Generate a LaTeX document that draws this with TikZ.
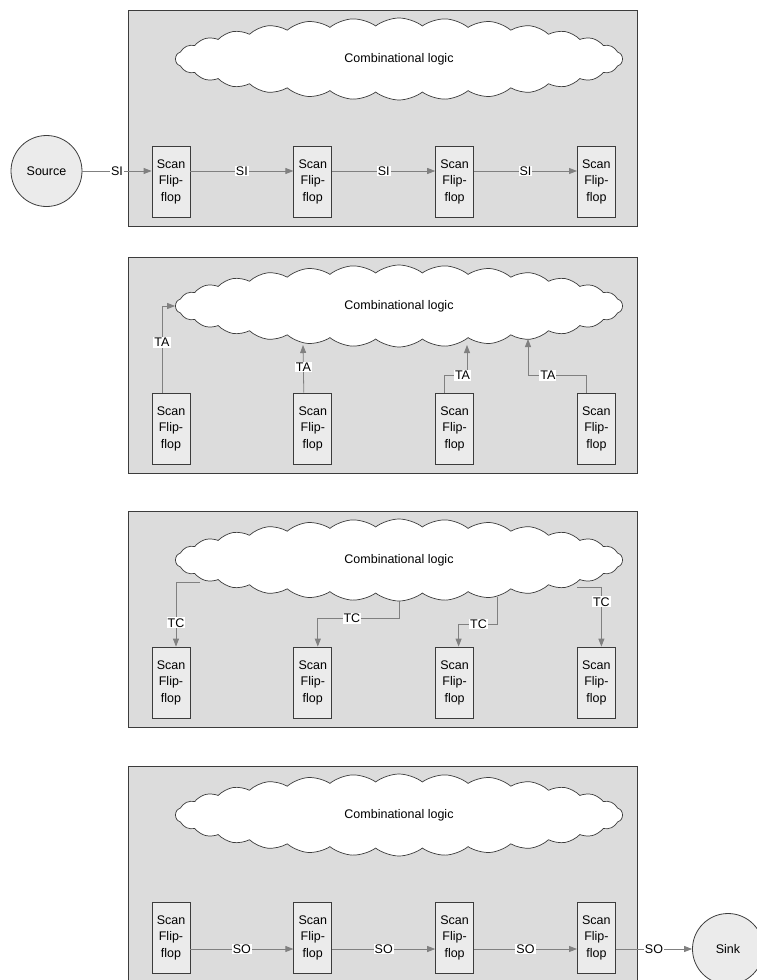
\documentclass[tikz,border=0pt]{standalone}
\usepackage{fontspec}
\setmainfont{Liberation Sans}
\usetikzlibrary{shapes.symbols, arrows.meta, positioning}
\definecolor{panelgray}{HTML}{DCDCDC}
\definecolor{boxgray}{HTML}{EBEBEB}
\definecolor{linegray}{HTML}{808080}
\definecolor{edgegray}{HTML}{3C3C3C}

\begin{document}
\begin{tikzpicture}[x=1pt, y=-1pt,
					every node/.style={font=\fontsize{12.5}{16.5}\selectfont},
					panel/.style={rectangle,
					draw=edgegray,
					line width=0.8pt,
					fill=panelgray,
					anchor=north west,
					minimum width=509pt,
					minimum height=216pt},
					cloudy/.style={cloud,
					cloud puffs=30,
					cloud puff arc=75,
					aspect=5.45,
					draw=edgegray,
					line width=0.7pt,
					fill=white,
					minimum width=447pt,
					minimum height=82pt},
					flipflop/.style={rectangle,
					draw=edgegray,
					line width=0.8pt,
					fill=boxgray,
					align=center,
					inner sep=0pt,
					minimum width=38pt,
					minimum height=71pt},
					term/.style={circle,
					draw=edgegray,
					line width=0.8pt,
					fill=boxgray,
					minimum size=71pt},
					sig/.style={draw=linegray,
					line width=0.8pt,
					-{Triangle[length=8pt, width=6pt]}},
					lbl/.style={fill=white,
					inner sep=1pt}
					]

\useasboundingbox (0,0) rectangle (756,980);

% panel 1: scan in
\node[panel]     (pan1) at (128,10) {};
\node[cloudy]    (cloud1) at (399,59) {Combinational logic};
\node[flipflop]  (ff11) at (171,181.5) {Scan\\Flip-\\flop};
\node[flipflop]  (ff12) [right=103pt of ff11] {Scan\\Flip-\\flop};
\node[flipflop]  (ff13) [right=103pt of ff12] {Scan\\Flip-\\flop};
\node[flipflop]  (ff14) [right=103pt of ff13] {Scan\\Flip-\\flop};
\node[term]      (source) at (46.5,171) {Source};

% panel 2: test apply
\node[panel]     (pan2) at (128,257) {};
\node[cloudy]    (cloud2) at (399,306) {Combinational logic};
\node[flipflop]  (ff21) at (171,428.5) {Scan\\Flip-\\flop};
\node[flipflop]  (ff22) [right=103pt of ff21] {Scan\\Flip-\\flop};
\node[flipflop]  (ff23) [right=103pt of ff22] {Scan\\Flip-\\flop};
\node[flipflop]  (ff24) [right=103pt of ff23] {Scan\\Flip-\\flop};

% panel 3: test capture
\node[panel]     (pan3) at (128,511) {};
\node[cloudy]    (cloud3) at (399,560) {Combinational logic};
\node[flipflop]  (ff31) at (171,682.5) {Scan\\Flip-\\flop};
\node[flipflop]  (ff32) [right=103pt of ff31] {Scan\\Flip-\\flop};
\node[flipflop]  (ff33) [right=103pt of ff32] {Scan\\Flip-\\flop};
\node[flipflop]  (ff34) [right=103pt of ff33] {Scan\\Flip-\\flop};

% panel 4: scan out
\node[panel]     (pan4) at (128,766) {};
\node[cloudy]    (cloud4) at (399,815) {Combinational logic};
\node[flipflop]  (ff41) at (171,937.5) {Scan\\Flip-\\flop};
\node[flipflop]  (ff42) [right=103pt of ff41] {Scan\\Flip-\\flop};
\node[flipflop]  (ff43) [right=103pt of ff42] {Scan\\Flip-\\flop};
\node[flipflop]  (ff44) [right=103pt of ff43] {Scan\\Flip-\\flop};
\node[term]      (sink) at (728,949) {Sink};

% where the arrows meet the clouds
\coordinate (ta2) at (303,345);
\coordinate (ta3) at (467,345);
\coordinate (ta4) at (528,339);
\coordinate (tc1) at (200,582);
\coordinate (tc3) at (497,597);
\coordinate (tc4) at (577,587);

% SI arrows
\draw[sig] (source.east) -- node[lbl]{SI} (source.east -| ff11.west);
\draw[sig] ([yshift=10.5pt]ff11.east) -- node[lbl]{SI} ([yshift=10.5pt]ff12.west);
\draw[sig] ([yshift=10.5pt]ff12.east) -- node[lbl]{SI} ([yshift=10.5pt]ff13.west);
\draw[sig] ([yshift=10.5pt]ff13.east) -- node[lbl]{SI} ([yshift=10.5pt]ff14.west);

% TA arrows
\draw[sig] ([xshift=-9pt]ff21.north) |- node[lbl, pos=0.29]{TA} (cloud2.west);
\draw[sig] ([xshift=-9pt]ff22.north) -- node[lbl, pos=0.54]{TA} (ta2);
\draw[sig] ([xshift=-10pt]ff23.north) -- ++(0,-17) -| node[lbl, pos=0.4]{TA} (ta3);
\draw[sig] ([xshift=-10pt]ff24.north) -- ++(0,-17) -| node[lbl, pos=0.33]{TA} (ta4);

% TC arrows
\draw[sig] (tc1) -| node[lbl, pos=0.815]{TC} ([xshift=5pt]ff31.north);
\draw[sig] (cloud3.south) -- ++(0,17) -| node[lbl, pos=0.29]{TC} ([xshift=5pt]ff32.north);
\draw[sig] (tc3) -- ++(0,27) -| node[lbl, pos=0.24]{TC} ([xshift=4pt]ff33.north);
\draw[sig] (tc4) -| node[lbl, pos=0.625]{TC} ([xshift=5pt]ff34.north);

% SO arrows
\draw[sig] ([yshift=-11.5pt]ff41.east) -- node[lbl]{SO} ([yshift=-11.5pt]ff42.west);
\draw[sig] ([yshift=-11.5pt]ff42.east) -- node[lbl]{SO} ([yshift=-11.5pt]ff43.west);
\draw[sig] ([yshift=-11.5pt]ff43.east) -- node[lbl]{SO} ([yshift=-11.5pt]ff44.west);
\draw[sig] ([yshift=-11.5pt]ff44.east) -- node[lbl]{SO} (sink.west);

\end{tikzpicture}
\end{document}
